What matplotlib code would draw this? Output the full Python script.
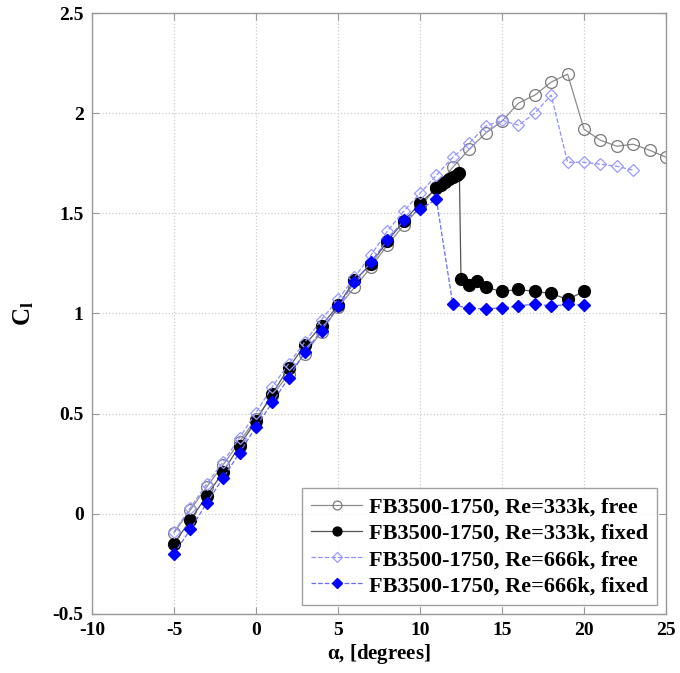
import matplotlib
matplotlib.use("Agg")
import matplotlib.pyplot as plt

plt.rcParams['font.family'] = ['Liberation Serif', 'DejaVu Serif']
plt.rcParams['font.weight'] = 'bold'
plt.rcParams['axes.unicode_minus'] = False
plt.rcParams['mathtext.fontset'] = 'custom'
plt.rcParams['mathtext.rm'] = 'Liberation Serif:bold'
plt.rcParams['mathtext.bf'] = 'Liberation Serif:bold'
plt.rcParams['mathtext.it'] = 'Liberation Serif:bold'

# Re = 333k, free transition
alpha_333_free = [-5, -4, -3, -2, -1, 0, 1, 2, 3, 4, 5, 6, 7, 8, 9, 10, 11, 12,
                  13, 14, 15, 16, 17, 18, 19, 20, 21, 22, 23, 24, 25]
cl_333_free = [-0.094, 0.02, 0.135, 0.245, 0.36, 0.475, 0.59, 0.70, 0.80, 0.91,
               1.03, 1.13, 1.23, 1.34, 1.44, 1.53, 1.63, 1.73, 1.82, 1.90, 1.96,
               2.05, 2.09, 2.155, 2.195, 1.92, 1.865, 1.835, 1.845, 1.815, 1.78]

# Re = 333k, fixed transition
alpha_333_fixed = [-5, -4, -3, -2, -1, 0, 1, 2, 3, 4, 5, 6, 7, 8, 9, 10, 11,
                   11.25, 11.5, 11.75, 12, 12.25, 12.4, 12.5, 13, 13.5, 14, 15,
                   16, 17, 18, 19, 20]
cl_333_fixed = [-0.15, -0.03, 0.09, 0.21, 0.34, 0.465, 0.60, 0.73, 0.845, 0.94,
                1.04, 1.165, 1.245, 1.36, 1.46, 1.55, 1.625, 1.64, 1.655, 1.67,
                1.68, 1.69, 1.70, 1.17, 1.14, 1.16, 1.13, 1.11, 1.12, 1.11, 1.10,
                1.07, 1.11]

# Re = 666k, free transition
alpha_666_free = [-5, -4, -3, -2, -1, 0, 1, 2, 3, 4, 5, 6, 7, 8, 9, 10, 11, 12,
                  13, 14, 15, 16, 17, 18, 19, 20, 21, 22, 23]
cl_666_free = [-0.09, 0.03, 0.15, 0.26, 0.38, 0.505, 0.635, 0.75, 0.86, 0.97,
               1.07, 1.18, 1.29, 1.41, 1.51, 1.60, 1.69, 1.78, 1.85, 1.935, 1.965,
               1.94, 2.00, 2.09, 1.755, 1.755, 1.745, 1.735, 1.715]

# Re = 666k, fixed transition
alpha_666_fixed = [-5, -4, -3, -2, -1, 0, 1, 2, 3, 4, 5, 6, 7, 8, 9, 10, 11, 12,
                   13, 14, 15, 16, 17, 18, 19, 20]
cl_666_fixed = [-0.20, -0.077, 0.054, 0.18, 0.305, 0.435, 0.556, 0.68, 0.81,
                0.915, 1.035, 1.155, 1.256, 1.365, 1.465, 1.52, 1.57, 1.045, 1.025,
                1.023, 1.028, 1.037, 1.048, 1.037, 1.045, 1.042]

labels = ['FB3500-1750, Re=333k, free', 'FB3500-1750, Re=333k, fixed',
          'FB3500-1750, Re=666k, free', 'FB3500-1750, Re=666k, fixed']

fig = plt.figure(figsize=(6.8, 6.73), dpi=100)
ax = fig.add_axes([92 / 680, 1 - 614 / 673, (666 - 92) / 680, (614 - 13) / 673])

ax.plot(alpha_333_free, cl_333_free, '-', color='#8c8c8c', lw=0.9,
        marker='o', ms=8.5, mfc='none', mec='#7a7a7a', mew=0.9, label=labels[0])
ax.plot(alpha_333_fixed, cl_333_fixed, '-', color='#555555', lw=0.9,
        marker='o', ms=8.5, mfc='black', mec='black', label=labels[1])
ax.plot(alpha_666_free, cl_666_free, '--', color='#8f8fff', lw=0.9,
        marker='D', ms=6.5, mfc='none', mec='#9a9aff', mew=0.9, label=labels[2])
ax.plot(alpha_666_fixed, cl_666_fixed, '--', color='#6a6aff', lw=0.9,
        marker='D', ms=6.5, mfc='#0000ff', mec='#0000ff', label=labels[3])

ax.set_xlim(-10, 25)
ax.set_ylim(-0.5, 2.5)
ax.set_xticks([-10, -5, 0, 5, 10, 15, 20, 25])
ax.set_yticks([-0.5, 0, 0.5, 1, 1.5, 2, 2.5])
ax.set_yticklabels(['-0.5', '0', '0.5', '1', '1.5', '2', '2.5'])
ax.grid(True, linestyle=':', color='#cccccc', lw=0.9)
for s in ax.spines.values():
    s.set_color('#999999')
    s.set_linewidth(1.0)
ax.tick_params(direction='in', length=5, color='#999999', labelsize=14,
               top=True, right=True, pad=6)
for t in ax.get_xticklabels() + ax.get_yticklabels():
    t.set_fontweight('bold')

ax.set_xlabel(r'$\alpha$, [degrees]', fontsize=15, fontweight='bold', labelpad=2)
ax.set_ylabel(r'$\mathbf{C_l}$', fontsize=18, labelpad=12)

leg = ax.legend(loc='lower right', frameon=True, fancybox=False,
                edgecolor='#888888', handlelength=2.3, borderpad=0.4,
                labelspacing=0.25, handletextpad=0.3, markerscale=0.75,
                borderaxespad=0.4, prop={'weight': 'bold', 'size': 16})
leg.get_frame().set_linewidth(1.0)

fig.savefig('out.png', dpi=100)
